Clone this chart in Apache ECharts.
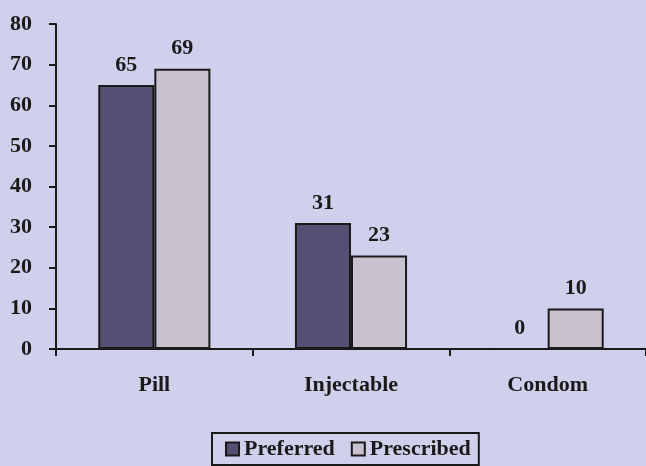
<!DOCTYPE html>
<html><head><meta charset="utf-8">
<script src="https://cdn.jsdelivr.net/npm/echarts@6/dist/echarts.min.js"></script>
<style>html,body{margin:0;padding:0;background:#d0d0ec}#c{width:646px;height:466px}</style>
</head><body><div id="c"></div>
<script>
const categories = ['Pill', 'Injectable', 'Condom'];
const preferred = [65, 31, 0];
const prescribed = [69, 23, 10];
const yTicks = { min: 0, max: 80, interval: 10 };

const font = 'Liberation Serif, Times New Roman, serif';
const chart = echarts.init(document.getElementById('c'));
const lbl = { show: true, position: 'top', distance: 9, color: '#1a1a1a', fontFamily: font, fontWeight: 'bold', fontSize: 22 };
chart.setOption({
  backgroundColor: '#d0d0ec',
  animation: false,
  grid: { left: 56, right: 0, top: 24, bottom: 117, containLabel: false },
  legend: {
    data: ['Preferred', 'Prescribed'],
    bottom: 1, left: 212,
    itemWidth: 13, itemHeight: 13, itemGap: 16,
    borderColor: '#1a1a1a', borderWidth: 2, padding: [5, 8, 5, 13],
    backgroundColor: '#d0d0ec',
    textStyle: { fontFamily: font, fontWeight: 'bold', fontSize: 22, color: '#1a1a1a' },
    icon: 'rect'
  },
  xAxis: {
    type: 'category', data: categories,
    axisLine: { lineStyle: { color: '#1a1a1a', width: 2 } },
    axisTick: { show: true, length: 7, lineStyle: { color: '#1a1a1a', width: 2 } },
    axisLabel: { margin: 25, fontFamily: font, fontWeight: 'bold', fontSize: 22, color: '#1a1a1a' }
  },
  yAxis: {
    type: 'value', min: yTicks.min, max: yTicks.max, interval: yTicks.interval,
    splitLine: { show: false },
    axisLine: { show: true, lineStyle: { color: '#1a1a1a', width: 2 } },
    axisTick: { show: true, length: 7, lineStyle: { color: '#1a1a1a', width: 2 } },
    axisLabel: { margin: 24, fontFamily: font, fontWeight: 'bold', fontSize: 22, color: '#1a1a1a' }
  },
  series: [
    { name: 'Preferred', type: 'bar', data: preferred, barGap: '0%', barCategoryGap: '43%',
      itemStyle: { color: '#545074', borderColor: '#1a1a1a', borderWidth: 2 }, label: lbl },
    { name: 'Prescribed', type: 'bar', data: prescribed,
      itemStyle: { color: '#c8c2d0', borderColor: '#1a1a1a', borderWidth: 2 }, label: lbl }
  ]
});
</script></body></html>
